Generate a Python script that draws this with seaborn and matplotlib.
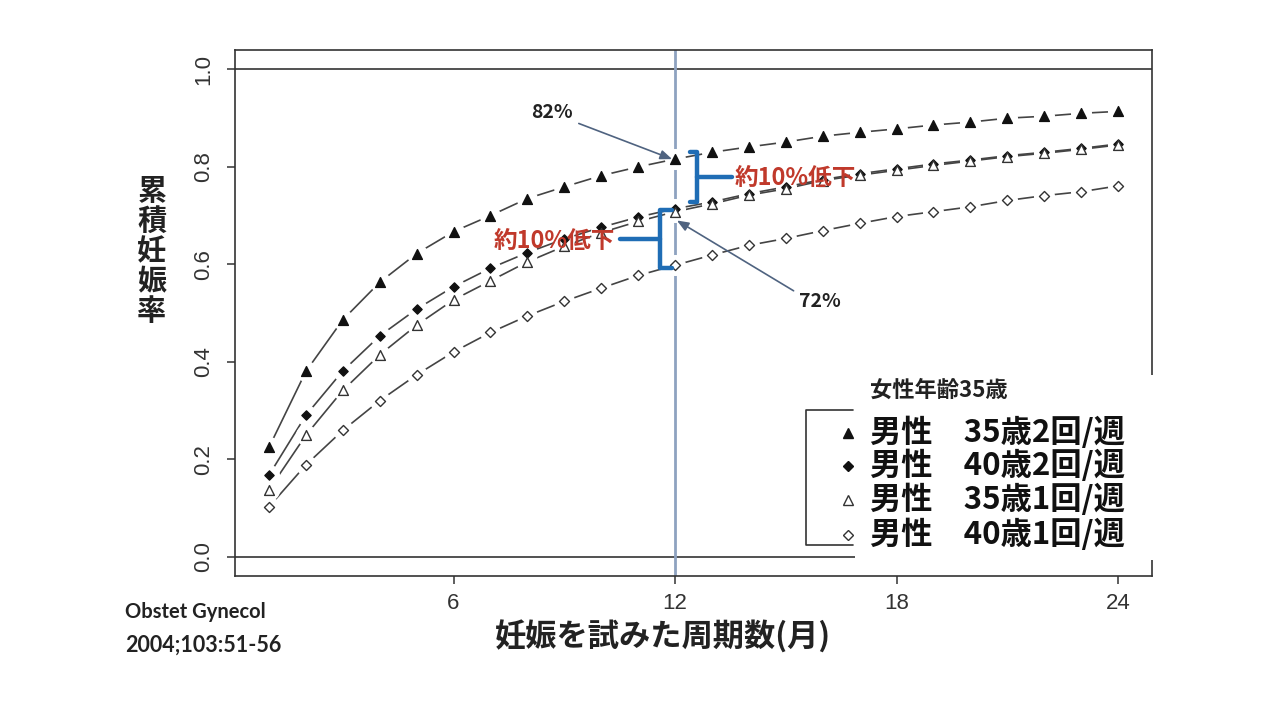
import numpy as np
import pandas as pd
import matplotlib
matplotlib.use("Agg")
import matplotlib.pyplot as plt
import seaborn as sns
from matplotlib.lines import Line2D
from matplotlib.patches import Rectangle

# ---------------- data ----------------
months = list(range(1, 25))
m35_2 = [0.224, 0.380, 0.486, 0.563, 0.622, 0.667, 0.700, 0.735, 0.759, 0.782, 0.800, 0.816,
         0.830, 0.841, 0.851, 0.863, 0.871, 0.878, 0.886, 0.892, 0.900, 0.904, 0.910, 0.914]
m40_2 = [0.167, 0.290, 0.381, 0.453, 0.508, 0.554, 0.592, 0.624, 0.652, 0.676, 0.697, 0.714,
         0.728, 0.745, 0.759, 0.774, 0.786, 0.796, 0.806, 0.814, 0.823, 0.830, 0.838, 0.847]
m35_1 = [0.137, 0.249, 0.341, 0.414, 0.475, 0.527, 0.566, 0.605, 0.637, 0.665, 0.688, 0.708,
         0.724, 0.742, 0.755, 0.772, 0.783, 0.793, 0.803, 0.812, 0.821, 0.828, 0.836, 0.845]
m40_1 = [0.102, 0.188, 0.259, 0.320, 0.373, 0.420, 0.460, 0.494, 0.524, 0.551, 0.577, 0.598,
         0.619, 0.639, 0.653, 0.669, 0.684, 0.698, 0.708, 0.718, 0.731, 0.741, 0.749, 0.761]

series_labels = ["男性\u300035歳2回/週", "男性\u300040歳2回/週",
                 "男性\u300035歳1回/週", "男性\u300040歳1回/週"]
legend_title = "女性年齢35歳"
x_ticks = [6, 12, 18, 24]
y_ticks = [0.0, 0.2, 0.4, 0.6, 0.8, 1.0]
y_tick_labels = ["0.0", "0.2", "0.4", "0.6", "0.8", "1.0"]
x_label = "妊娠を試みた周期数(月)"
y_label = "累積妊娠率"
source_lines = ["Obstet Gynecol", "2004;103:51-56"]
mark_month = 12
note_high = "82%"
note_low = "72%"
drop_text = "約10%低下"

# ---------------- style ----------------
sns.set_theme(style="white")
plt.rcParams["font.family"] = ["Noto Sans CJK JP", "DejaVu Sans"]

fig = plt.figure(figsize=(12.8, 7.2), dpi=100)
W, H = 1280.0, 720.0
ax = fig.add_axes([235 / W, 1 - 576 / H, 917 / W, 526 / H])

all_series = [m35_2, m40_2, m35_1, m40_1]
df = pd.DataFrame({
    "month": months * 4,
    "rate": sum(all_series, []),
    "series": sum([[lab] * len(months) for lab in series_labels], []),
})

# marker, face, edge, size
marker_styles = [("^", "#111111", "#111111", 50),
                 ("D", "#111111", "#111111", 22),
                 ("^", "white", "#333333", 50),
                 ("D", "white", "#333333", 26)]

# connecting lines
sns.lineplot(data=df, x="month", y="rate", hue="series",
             palette=["#444444"] * 4, linewidth=1.2, legend=False,
             errorbar=None, ax=ax, zorder=2)
# gaps around points (R type="b" look)
sns.scatterplot(data=df, x="month", y="rate", color="white", s=230,
                marker="o", linewidth=0, legend=False, ax=ax, zorder=3)
# point markers
for lab, (mk, fc, ec, sz) in zip(series_labels, marker_styles):
    sub = df[df["series"] == lab]
    sns.scatterplot(data=sub, x="month", y="rate", marker=mk, color=fc,
                    edgecolor=ec, linewidth=1.0, s=sz, legend=False,
                    ax=ax, zorder=4)

ax.set_xlim(0.08, 24.92)
ax.set_ylim(-0.04, 1.04)
ax.set_xticks(x_ticks)
ax.set_xticklabels([str(t) for t in x_ticks], fontfamily="Liberation Sans")
ax.set_yticks(y_ticks)
ax.set_yticklabels(y_tick_labels, rotation=90, va="center",
                   fontfamily="Liberation Sans")
ax.tick_params(axis="both", direction="out", length=6, width=1.1,
               color="#333333", labelsize=16, labelcolor="#333333",
               bottom=True, left=True)
ax.tick_params(axis="y", pad=9)
ax.tick_params(axis="x", pad=6)
for sp in ax.spines.values():
    sp.set_color("#333333")
    sp.set_linewidth(1.2)
ax.set_xlabel("")
ax.set_ylabel("")

ax.axhline(0, color="#333333", lw=1.2, zorder=1)
ax.axhline(1, color="#333333", lw=1.2, zorder=1)
ax.axvline(mark_month, color="#8ea2c0", lw=2, zorder=2.5)

# axis titles
fig.text(663 / W, 1 - 637 / H, x_label, ha="center", va="center",
         fontsize=22.5, fontweight="bold", color="#222222")
fig.text(152 / W, 1 - 251 / H, "\n".join(y_label), ha="center", va="center",
         fontsize=21, fontweight="bold", color="#222222", linespacing=1.0)

# source
fig.text(125 / W, 1 - 612 / H, source_lines[0], ha="left", va="center",
         fontsize=14.5, fontweight="bold", family=["Lato", "DejaVu Sans"], color="#222222")
fig.text(125 / W, 1 - 645 / H, source_lines[1], ha="left", va="center",
         fontsize=15.5, fontweight="bold", family=["Lato", "DejaVu Sans"], color="#222222")

# annotations with arrows
arrow_col = "#4f6380"
ax.annotate(note_high, xy=(mark_month - 0.08, m35_2[mark_month - 1]),
            xytext=(8.67, 0.911), ha="center", va="center",
            fontsize=14, fontweight="bold", color="#222222",
            arrowprops=dict(arrowstyle="-|>,head_length=0.5,head_width=0.2",
                            color=arrow_col, lw=1.2, relpos=(0.95, 0.1),
                            shrinkA=2, shrinkB=0))
ax.annotate(note_low, xy=(mark_month + 0.05, 0.69),
            xytext=(15.93, 0.523), ha="center", va="center",
            fontsize=14, fontweight="bold", color="#222222",
            arrowprops=dict(arrowstyle="-|>,head_length=0.5,head_width=0.2",
                            color=arrow_col, lw=1.2, relpos=(0.0, 0.9),
                            shrinkA=2, shrinkB=0))

# brackets
br_col = "#1f6db5"
ax.plot([12.40, 12.59, 12.59, 12.40], [0.8306, 0.8306, 0.728, 0.728],
        color=br_col, lw=3.2, solid_joinstyle="round", zorder=5)
ax.plot([12.59, 13.54], [0.779, 0.779], color=br_col, lw=3.2, zorder=5)
ax.plot([11.92, 11.59, 11.59, 11.92], [0.7115, 0.7115, 0.5924, 0.5924],
        color=br_col, lw=3.2, solid_joinstyle="round", zorder=5)
ax.plot([11.59, 10.51], [0.652, 0.652], color=br_col, lw=3.2, zorder=5)

red = "#c0392b"
ax.text(13.62, 0.777, drop_text, ha="left", va="center", fontsize=17,
        fontweight="bold", color=red, zorder=6)
ax.text(10.37, 0.648, drop_text, ha="right", va="center", fontsize=17,
        fontweight="bold", color=red, zorder=6)

# legend area (pasted box)
fig.add_artist(Rectangle((855 / W, 1 - 560 / H), 320 / W, 185 / H,
                         transform=fig.transFigure, facecolor="white",
                         edgecolor="none", zorder=3))
fig.add_artist(Line2D([853 / W, 806 / W, 806 / W, 853 / W],
                      [1 - 410 / H, 1 - 410 / H, 1 - 545 / H, 1 - 545 / H],
                      transform=fig.transFigure, color="#333333", lw=1.2, zorder=4))
fig.text(870 / W, 1 - 390 / H, legend_title, ha="left", va="center",
         fontsize=16, fontweight="bold", color="#222222", zorder=5)
row_y = [433, 466, 500, 535]
for lab, (mk, fc, ec, sz), yy in zip(series_labels, marker_styles, row_y):
    fig.add_artist(Line2D([848 / W], [1 - yy / H], marker=mk, markersize=np.sqrt(sz),
                          markerfacecolor=fc, markeredgecolor=ec, markeredgewidth=1.0,
                          linestyle="none", transform=fig.transFigure, zorder=5))
    fig.text(870 / W, 1 - yy / H, lab, ha="left", va="center",
             fontsize=22.5, fontweight="bold", color="#111111", zorder=5)

fig.savefig("out.png", dpi=100, facecolor="white")
